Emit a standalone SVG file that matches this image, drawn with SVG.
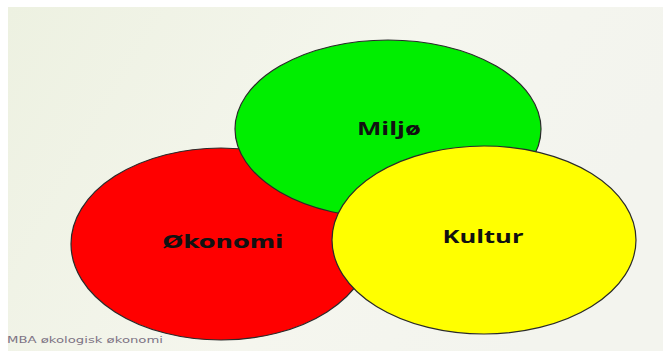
<svg xmlns="http://www.w3.org/2000/svg" width="663" height="351" viewBox="0 0 663 351">
<defs>
<linearGradient id="bg" x1="0" y1="0" x2="1" y2="0.3">
<stop offset="0" stop-color="#edf1e1"/>
<stop offset="0.6" stop-color="#f5f6ee"/>
<stop offset="1" stop-color="#f3f4ee"/>
</linearGradient>
</defs>
<style>
.c{stroke:#2a2a2a;stroke-width:1.2}
.t{font-family:"Open Sans","DejaVu Sans",sans-serif;font-weight:bold;font-size:18px;fill:#111;text-anchor:middle}
.f{font-family:"DejaVu Sans","Liberation Sans",sans-serif;font-size:9px;fill:#7d7384}
</style>
<rect x="0" y="0" width="663" height="351" fill="#ffffff"/>
<rect x="8" y="7" width="655" height="344" fill="url(#bg)"/>
<g id="okonomi">
<ellipse class="c" cx="221" cy="244" rx="150" ry="96" fill="#ff0000"/>
</g>
<g id="miljo">
<ellipse class="c" cx="388" cy="129" rx="153" ry="89" fill="#00ee00"/>
</g>
<g id="kultur">
<ellipse class="c" cx="484" cy="240" rx="152" ry="94" fill="#ffff00"/>
</g>
<g id="labels">
<text class="t" x="223" y="248" textLength="121" lengthAdjust="spacingAndGlyphs" style="font-family:'DejaVu Sans',sans-serif;font-size:17px">Økonomi</text>
<text class="t" x="389" y="135" textLength="64" lengthAdjust="spacingAndGlyphs">Miljø</text>
<text class="t" x="483" y="243" textLength="81" lengthAdjust="spacingAndGlyphs">Kultur</text>
</g>
<g id="connectors"></g>
<text class="f" x="7" y="343" textLength="156" lengthAdjust="spacingAndGlyphs">MBA økologisk økonomi</text>
</svg>
